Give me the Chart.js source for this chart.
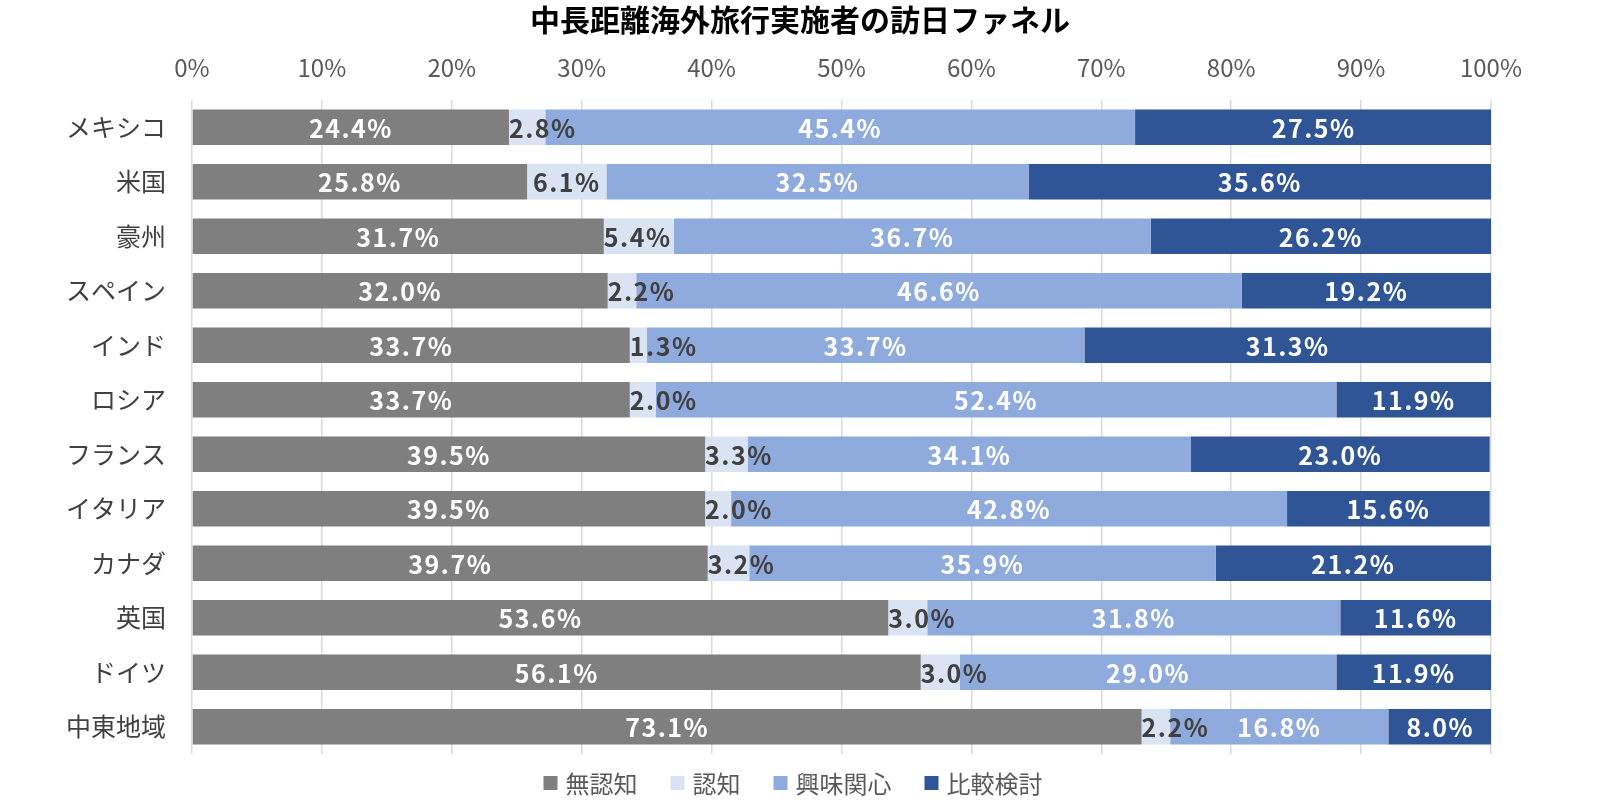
<!DOCTYPE html>
<html lang="ja">
<head>
<meta charset="utf-8">
<title>中長距離海外旅行実施者の訪日ファネル</title>
<script src="https://cdn.jsdelivr.net/npm/chart.js@4"></script>
<style>
    html, body { margin: 0; padding: 0; background: #ffffff; }
    #wrap { width: 1600px; height: 800px; }
</style>
</head>
<body>
<div id="wrap"><canvas id="funnelChart" width="1600" height="800"></canvas></div>
<script>
/* =======================
   DATA
======================= */
const countries = ["メキシコ", "米国", "豪州", "スペイン", "インド", "ロシア", "フランス", "イタリア", "カナダ", "英国", "ドイツ", "中東地域"];

const seriesNames = ["無認知", "認知", "興味関心", "比較検討"];

const unaware    = [24.4, 25.8, 31.7, 32.0, 33.7, 33.7, 39.5, 39.5, 39.7, 53.6, 56.1, 73.1];
const aware      = [2.8, 6.1, 5.4, 2.2, 1.3, 2.0, 3.3, 2.0, 3.2, 3.0, 3.0, 2.2];
const interested = [45.4, 32.5, 36.7, 46.6, 33.7, 52.4, 34.1, 42.8, 35.9, 31.8, 29.0, 16.8];
const comparing  = [27.5, 35.6, 26.2, 19.2, 31.3, 11.9, 23.0, 15.6, 21.2, 11.6, 11.9, 8.0];

const xTicks = [0, 10, 20, 30, 40, 50, 60, 70, 80, 90, 100];

const colors = ["#7f7f7f", "#dae3f3", "#8faadc", "#2f5597"];
const labelColors = ["#ffffff", "#404040", "#ffffff", "#ffffff"];

const FONT = "'Noto Sans CJK JP', 'Noto Sans', sans-serif";

/* =======================
   DATA LABELS
======================= */
const segmentLabels = {
    id: "segmentLabels",
    afterDatasetsDraw(chart) {
        const ctx = chart.ctx;
        ctx.save();
        ctx.font = "bold 25px " + FONT;
        ctx.letterSpacing = "1.5px";
        ctx.textBaseline = "middle";

        chart.data.datasets.forEach((ds, i) => {
            const meta = chart.getDatasetMeta(i);
            meta.data.forEach((bar, j) => {
                const text = ds.data[j].toFixed(1) + "%";
                const left = Math.min(bar.base, bar.x);
                const w = Math.abs(bar.x - bar.base);
                const tw = ctx.measureText(text).width;
                ctx.fillStyle = labelColors[i];
                if (w >= tw + 6) {
                    ctx.textAlign = "center";
                    ctx.fillText(text, left + w / 2, bar.y + 1);
                } else {
                    ctx.textAlign = "left";
                    ctx.fillText(text, left, bar.y + 1);
                }
            });
        });
        ctx.restore();
    }
};

/* =======================
   LEGEND (bottom, centred)
======================= */
const bottomLegend = {
    id: "bottomLegend",
    afterDraw(chart) {
        const ctx = chart.ctx;
        const box = 14, gap = 8, spacing = 33;
        const y = 783;
        ctx.save();
        ctx.font = "24px " + FONT;
        ctx.textBaseline = "middle";
        ctx.textAlign = "left";

        const widths = seriesNames.map(n => box + gap + ctx.measureText(n).width);
        const total = widths.reduce((a, b) => a + b, 0) + spacing * (seriesNames.length - 1);
        let x = 793 - total / 2;

        seriesNames.forEach((name, i) => {
            ctx.fillStyle = colors[i];
            ctx.fillRect(x, y - box / 2, box, box);
            ctx.fillStyle = "#595959";
            ctx.fillText(name, x + box + gap, y + 1);
            x += widths[i] + spacing;
        });
        ctx.restore();
    }
};

/* =======================
   CHART
======================= */
const values = [unaware, aware, interested, comparing];

new Chart(document.getElementById("funnelChart"), {
    type: "bar",
    data: {
        labels: countries,
        datasets: seriesNames.map((name, i) => ({
            label: name,
            data: values[i],
            backgroundColor: colors[i],
            borderWidth: 0,
            barPercentage: 0.655,
            categoryPercentage: 1
        }))
    },
    options: {
        indexAxis: "y",
        responsive: false,
        animation: false,
        layout: { padding: { left: 0, right: 0, top: 0, bottom: 46 } },
        plugins: {
            title: {
                display: true,
                text: "中長距離海外旅行実施者の訪日ファネル",
                color: "#000000",
                font: { family: FONT, size: 30, weight: "bold" },
                padding: { top: 2, bottom: 4 }
            },
            legend: { display: false },
            tooltip: { enabled: false }
        },
        scales: {
            x: {
                position: "top",
                stacked: true,
                min: 0,
                max: 100,
                afterBuildTicks: scale => {
                    scale.ticks = xTicks.map(v => ({ value: v }));
                },
                afterFit: scale => { scale.height = 58; },
                ticks: {
                    color: "#595959",
                    font: { family: FONT, size: 24 },
                    padding: 18,
                    callback: v => v + "%"
                },
                grid: { color: "#d9d9d9", lineWidth: 1.5, drawTicks: false },
                border: { display: false }
            },
            y: {
                stacked: true,
                afterFit: scale => { scale.width = 192; },
                ticks: {
                    color: "#404040",
                    font: { family: FONT, size: 25 },
                    padding: 18
                },
                grid: { display: false },
                border: { display: false }
            },
            yRight: {
                type: "category",
                position: "right",
                labels: countries,
                afterFit: scale => { scale.width = 109; },
                ticks: { display: false },
                grid: { display: false },
                border: { display: false }
            }
        }
    },
    plugins: [segmentLabels, bottomLegend]
});
</script>
</body>
</html>
